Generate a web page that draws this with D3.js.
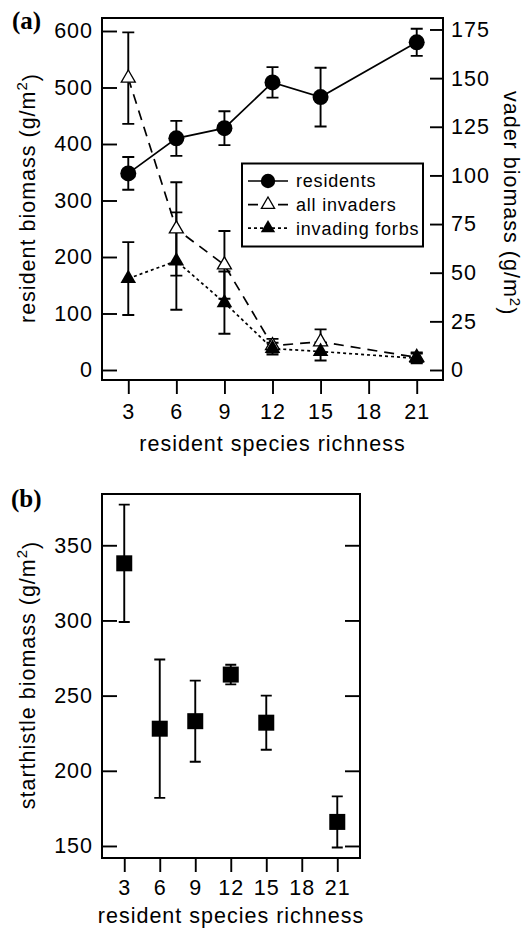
<!DOCTYPE html>
<html>
<head>
<meta charset="utf-8">
<script src="https://cdn.jsdelivr.net/npm/d3@7"></script>
<style>
  body { margin: 0; background: #fff; }
  text { font-family: "Liberation Sans", Arial, Helvetica, sans-serif; fill: #000; }
</style>
</head>
<body>
<script>
// values
const richness = [3, 6, 9, 12, 15, 21];
const xTicks = [3, 6, 9, 12, 15, 18, 21];

const residents    = [348, 410, 428, 509, 483, 580];
const residentsErr = [29, 31, 30, 27, 52, 24];

const allInvaders    = [150, 72.5, 54, 12.5, 14.5, 6.5];
const allInvadersErr = [23.5, 24, 17.4, 3.5, 6.4, 2.5];

const forbs    = [47, 56, 34.6, 11, 9.5, 6];
const forbsErr = [18.7, 25, 16, 3, 4.6, 2.5];

const starthistle    = [338, 228, 233, 264, 232, 166];
const starthistleErr = [39, 46, 27, 6.5, 18, 17];

const leftTicksA  = [0, 100, 200, 300, 400, 500, 600];
const rightTicksA = [0, 25, 50, 75, 100, 125, 150, 175];
const leftTicksB  = [150, 200, 250, 300, 350];

const legendItems = ['residents', 'all invaders', 'invading forbs'];

const width = 527, height = 931;
const fs = 21.5, ls = '1px';

const svg = d3.select('body').append('svg')
    .attr('width', width)
    .attr('height', height);

function rows(vals, errs) {
    return richness.map((r, i) => ({r: r, v: vals[i], e: errs[i]}));
}

function errorBars(g, x, y, vals, errs, cap) {
    g.append('g').selectAll('path')
        .data(rows(vals, errs))
        .join('path')
        .attr('d', d => {
            const top = y(d.v + d.e), bot = y(d.v - d.e), cx = x(d.r);
            return `M${cx - cap / 2},${top}h${cap}M${cx},${top}V${bot}M${cx - cap / 2},${bot}h${cap}`;
        })
        .attr('fill', 'none')
        .attr('stroke', '#000')
        .attr('stroke-width', 1.9);
}

function styleAxis(g) {
    g.select('.domain').remove();
    g.selectAll('.tick line').attr('stroke', '#000').attr('stroke-width', 1.9);
    g.selectAll('.tick text')
        .attr('font-size', fs)
        .style('font-family', '"Liberation Sans", Arial, sans-serif')
        .style('letter-spacing', ls)
        .attr('fill', '#000');
}

function yTitle(g, label, cx, cy, rot) {
    const t = g.append('text')
        .attr('transform', `translate(${cx},${cy}) rotate(${rot})`)
        .attr('text-anchor', 'middle')
        .attr('font-size', fs)
        .style('letter-spacing', ls);
    t.append('tspan').text(label + ' (g/m');
    t.append('tspan').attr('dy', '-0.5em').attr('font-size', fs * 0.7).text('2');
    t.append('tspan').attr('dy', '0.5em').text(')');
}

// ---------------- panel (a) ----------------
const a = {left: 102, right: 443, top: 18, bottom: 380};
const gA = svg.append('g');

const xA = d3.scaleLinear().domain([1.36, 22.64]).range([a.left, a.right]);
const yA = d3.scaleLinear().domain([-17.7, 623]).range([a.bottom, a.top]);
const yA2 = d3.scaleLinear().domain([-5.14, 180.9]).range([a.bottom, a.top]);

gA.append('g')
    .attr('transform', `translate(0,${a.bottom})`)
    .call(d3.axisBottom(xA).tickValues(xTicks).tickSize(14).tickPadding(10).tickFormat(d3.format('d')))
    .call(styleAxis);

gA.append('g')
    .attr('transform', `translate(${a.left},0)`)
    .call(d3.axisLeft(yA).tickValues(leftTicksA).tickSize(-15).tickPadding(9).tickFormat(d3.format('d')))
    .call(styleAxis);

gA.append('g')
    .attr('transform', `translate(${a.right},0)`)
    .call(d3.axisRight(yA2).tickValues(rightTicksA).tickSize(-13).tickPadding(8).tickFormat(d3.format('d')))
    .call(styleAxis);

gA.append('rect')
    .attr('x', a.left).attr('y', a.top)
    .attr('width', a.right - a.left).attr('height', a.bottom - a.top)
    .attr('fill', 'none').attr('stroke', '#000').attr('stroke-width', 2);

// error bars
errorBars(gA, xA, yA, residents, residentsErr, 12);
errorBars(gA, xA, yA2, allInvaders, allInvadersErr, 12);
errorBars(gA, xA, yA2, forbs, forbsErr, 12);

// lines
const lineRes = d3.line().x(d => xA(d.r)).y(d => yA(d.v));
const lineInv = d3.line().x(d => xA(d.r)).y(d => yA2(d.v));

gA.append('path').datum(rows(residents, residentsErr))
    .attr('d', lineRes).attr('fill', 'none').attr('stroke', '#000').attr('stroke-width', 1.7);
gA.append('path').datum(rows(allInvaders, allInvadersErr))
    .attr('d', lineInv).attr('fill', 'none').attr('stroke', '#000').attr('stroke-width', 1.7)
    .attr('stroke-dasharray', '10,7');
gA.append('path').datum(rows(forbs, forbsErr))
    .attr('d', lineInv).attr('fill', 'none').attr('stroke', '#000').attr('stroke-width', 1.7)
    .attr('stroke-dasharray', '3,3');

// markers
const tri = d3.symbol().type(d3.symbolTriangle);
gA.append('g').selectAll('circle')
    .data(rows(residents, residentsErr))
    .join('circle')
    .attr('cx', d => xA(d.r)).attr('cy', d => yA(d.v)).attr('r', 8)
    .attr('fill', '#000');
gA.append('g').selectAll('path')
    .data(rows(allInvaders, allInvadersErr))
    .join('path')
    .attr('transform', d => `translate(${xA(d.r)},${yA2(d.v)})`)
    .attr('d', tri.size(85))
    .attr('fill', '#fff').attr('stroke', '#000').attr('stroke-width', 1.3);
gA.append('g').selectAll('path')
    .data(rows(forbs, forbsErr))
    .join('path')
    .attr('transform', d => `translate(${xA(d.r)},${yA2(d.v)})`)
    .attr('d', tri.size(105))
    .attr('fill', '#000');

// legend
const lg = gA.append('g');
lg.append('rect')
    .attr('x', 242).attr('y', 163.5).attr('width', 181).attr('height', 83)
    .attr('fill', '#fff').attr('stroke', '#000').attr('stroke-width', 2);
legendItems.forEach((name, i) => {
    const cy = 181 + i * 23.6;
    const seg = lg.append('line')
        .attr('x1', 248).attr('x2', 288).attr('y1', cy).attr('y2', cy)
        .attr('stroke', '#000').attr('stroke-width', 1.7);
    if (i === 0) {
        lg.append('circle').attr('cx', 268).attr('cy', cy).attr('r', 7.2).attr('fill', '#000');
    } else if (i === 1) {
        seg.attr('stroke-dasharray', '10,20');
        lg.append('path').attr('transform', `translate(268,${cy})`).attr('d', tri.size(75))
            .attr('fill', '#fff').attr('stroke', '#000').attr('stroke-width', 1.3);
    } else {
        seg.attr('stroke-dasharray', '3,3');
        lg.append('path').attr('transform', `translate(268,${cy})`).attr('d', tri.size(90))
            .attr('fill', '#000');
    }
    lg.append('text')
        .attr('x', 296).attr('y', cy).attr('dy', '0.36em')
        .attr('font-size', 18)
        .style('letter-spacing', '0.8px')
        .text(name);
});

// titles
gA.append('text')
    .attr('x', (a.left + a.right) / 2).attr('y', 451)
    .attr('text-anchor', 'middle').attr('font-size', fs).style('letter-spacing', ls)
    .text('resident species richness');
yTitle(gA, 'resident biomass', 35, 198, -90);

const vt = gA.append('text')
    .attr('transform', 'translate(504,91) rotate(90)')
    .attr('font-size', fs).style('letter-spacing', ls);
vt.append('tspan').text('vader biomass (g/m');
vt.append('tspan').attr('dy', '-0.4em').attr('font-size', fs * 0.7).text('2');
vt.append('tspan').attr('dy', '0.4em').text(')');

gA.append('text')
    .attr('x', 12).attr('y', 29)
    .attr('font-size', 25).attr('font-weight', 'bold')
    .style('font-family', '"Liberation Serif", "Times New Roman", serif')
    .text('(a)');

// ---------------- panel (b) ----------------
const b = {left: 102, right: 360, top: 494, bottom: 858};
const gB = svg.append('g');

const xB = d3.scaleLinear().domain([1.12, 22.92]).range([b.left, b.right]);
const yB = d3.scaleLinear().domain([142, 384.1]).range([b.bottom, b.top]);

gB.append('g')
    .attr('transform', `translate(0,${b.bottom})`)
    .call(d3.axisBottom(xB).tickValues(xTicks).tickSize(14).tickPadding(8).tickFormat(d3.format('d')))
    .call(styleAxis);

gB.append('g')
    .attr('transform', `translate(${b.left},0)`)
    .call(d3.axisLeft(yB).tickValues(leftTicksB).tickSize(-15).tickPadding(9).tickFormat(d3.format('d')))
    .call(styleAxis);

gB.append('g')
    .attr('transform', `translate(${b.right},0)`)
    .call(d3.axisRight(yB).tickValues(leftTicksB).tickSize(-15).tickFormat(''))
    .call(styleAxis);

gB.append('rect')
    .attr('x', b.left).attr('y', b.top)
    .attr('width', b.right - b.left).attr('height', b.bottom - b.top)
    .attr('fill', 'none').attr('stroke', '#000').attr('stroke-width', 2);

errorBars(gB, xB, yB, starthistle, starthistleErr, 11);

gB.append('g').selectAll('rect')
    .data(rows(starthistle, starthistleErr))
    .join('rect')
    .attr('x', d => xB(d.r) - 8).attr('y', d => yB(d.v) - 8)
    .attr('width', 16).attr('height', 16)
    .attr('fill', '#000');

gB.append('text')
    .attr('x', (b.left + b.right) / 2).attr('y', 923)
    .attr('text-anchor', 'middle').attr('font-size', fs).style('letter-spacing', ls)
    .text('resident species richness');
yTitle(gB, 'starthistle biomass', 35, 675, -90);

gB.append('text')
    .attr('x', 11).attr('y', 507)
    .attr('font-size', 25).attr('font-weight', 'bold')
    .style('font-family', '"Liberation Serif", "Times New Roman", serif')
    .text('(b)');
</script>
</body>
</html>
